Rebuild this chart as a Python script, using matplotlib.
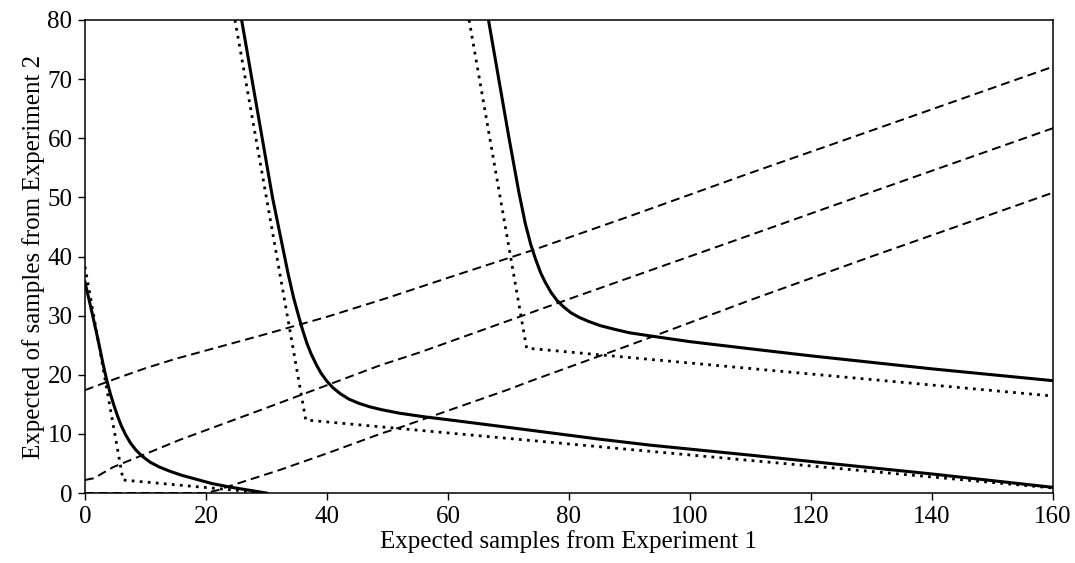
import matplotlib
matplotlib.use("Agg")
import matplotlib.pyplot as plt

plt.rcParams['font.family'] = ['Liberation Serif', 'DejaVu Serif']

# solid curves
solid1_x = [0, 0.5, 1.0, 1.5, 2.0, 2.5, 3.0, 3.6, 4.2, 4.8, 5.4, 6.0, 6.7, 7.5, 8.4, 9.5,
            10.8, 12.3, 14, 16, 18.5, 21, 24, 27, 30]
solid1_y = [35.7, 33.5, 31.3, 29.0, 26.7, 24.3, 21.8, 19.1, 16.8, 14.8, 13.0, 11.4, 9.9, 8.5, 7.3, 6.2,
            5.2, 4.4, 3.7, 3.0, 2.3, 1.6, 1.0, 0.5, 0]

solid2_x = [25.9, 27.6, 29.3, 31.0, 32.6, 33.6, 34.5, 35.3, 36.0, 36.7, 37.4, 38.2, 39.0, 40.0,
            41.0, 42.2, 43.6, 45.2, 47.0, 49.0, 52.0, 56, 60, 70, 85.1, 93.4, 110, 125, 140.2, 160]
solid2_y = [80, 70, 60, 50, 42, 37, 33, 30, 27.5, 25.3, 23.5, 21.8, 20.3, 18.9,
            17.8, 16.8, 15.9, 15.2, 14.6, 14.1, 13.5, 12.9, 12.4, 11.1, 9.1, 8.1, 6.4, 4.8, 3.2, 0.96]

solid3_x = [66.7, 68.4, 70.1, 71.7, 72.8, 73.7, 74.5, 75.3, 76.1, 77.0, 78.0, 79.1, 80.3, 81.7,
            83.3, 85.2, 87.5, 90, 93.9, 100, 109.9, 120, 130, 140, 150, 160]
solid3_y = [80, 70, 60, 51, 45.5, 42, 39.5, 37.3, 35.6, 34.0, 32.6, 31.5, 30.5, 29.7,
            29.0, 28.3, 27.7, 27.1, 26.5, 25.6, 24.4, 23.2, 22.1, 21.0, 20.0, 19.0]

# dotted curves
dot1_x = [0, 6.3, 30]
dot1_y = [38.3, 2.2, 0]
dot2_x = [24.8, 36.5, 160]
dot2_y = [80, 12.35, 0.85]
dot3_x = [63.5, 73.0, 160]
dot3_y = [80, 24.5, 16.4]

# dashed curves
dash1_x = [0, 5, 10, 15, 20, 30, 40, 50, 60, 74.1, 90, 109.9, 130, 160]
dash1_y = [17.4, 19.3, 21.1, 22.7, 24.1, 26.9, 29.8, 33.0, 36.4, 41.1, 46.8, 54.1, 61.3, 72.1]
dash2_x = [0, 1.5, 3, 4.7, 10, 15.7, 30, 48.8, 55.4, 80, 109.9, 130, 160]
dash2_y = [2.2, 2.5, 3.4, 4.4, 6.6, 9.0, 14.4, 21.6, 23.8, 32.8, 43.6, 50.9, 61.7]
dash3_x = [0, 20, 22, 24, 32.2, 40, 48.8, 52.1, 69.7, 74.1, 90, 109.9, 130, 160]
dash3_y = [0, 0, 0.5, 1.2, 3.9, 6.7, 10.0, 11.1, 17.4, 19.1, 25.0, 32.6, 40.0, 50.8]

fig = plt.figure(figsize=(10.75, 5.63), dpi=100)
ax = fig.add_axes([0.079, 0.1243, 0.9005, 0.8402])

for xs, ys in [(solid1_x, solid1_y), (solid2_x, solid2_y), (solid3_x, solid3_y)]:
    ax.plot(xs, ys, color='black', lw=2.2, solid_joinstyle='round')
for xs, ys in [(dot1_x, dot1_y), (dot2_x, dot2_y), (dot3_x, dot3_y)]:
    ax.plot(xs, ys, color='black', lw=2.0, linestyle=(0, (1, 1.9)))
for xs, ys in [(dash1_x, dash1_y), (dash2_x, dash2_y), (dash3_x, dash3_y)]:
    ax.plot(xs, ys, color='black', lw=1.4, linestyle=(0, (4.6, 2.6)))

ax.set_xlim(0, 160)
ax.set_ylim(0, 80)
ax.set_xticks([0, 20, 40, 60, 80, 100, 120, 140, 160])
ax.set_yticks([0, 10, 20, 30, 40, 50, 60, 70, 80])
ax.tick_params(labelsize=18, length=5, width=1, direction='out', pad=4)
for s in ax.spines.values():
    s.set_linewidth(1.1)
ax.set_xlabel('Expected samples from Experiment 1', fontsize=18, labelpad=2)
ax.set_ylabel('Expected of samples from Experiment 2', fontsize=18, labelpad=2)

fig.savefig('out.png', dpi=100)
